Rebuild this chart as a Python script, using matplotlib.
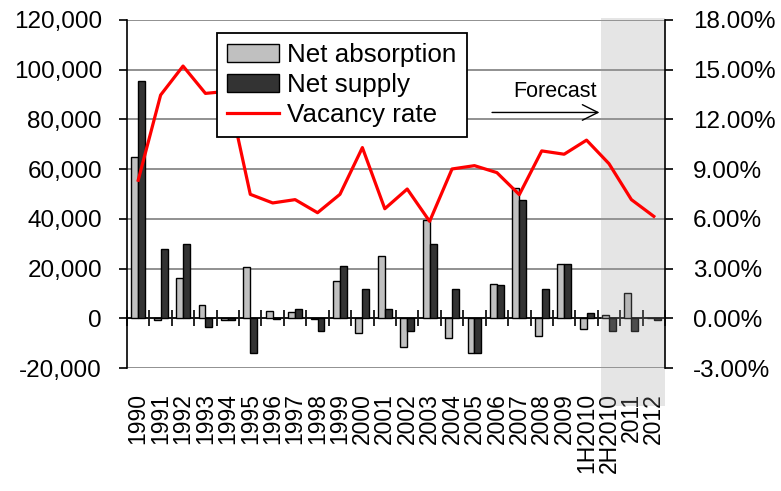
import matplotlib.pyplot as plt
import matplotlib.transforms as mtransforms
import numpy as np
from matplotlib.patches import Rectangle
from matplotlib.ticker import FuncFormatter

plt.rcParams['font.family'] = ['Liberation Sans', 'DejaVu Sans']

# data
cats = ['1990', '1991', '1992', '1993', '1994', '1995', '1996', '1997', '1998', '1999',
        '2000', '2001', '2002', '2003', '2004', '2005', '2006', '2007', '2008', '2009',
        '1H2010', '2H2010', '2011', '2012']
absorption = [64900, -700, 16300, 5400, -500, 20600, 3100, 2400, -400, 14800,
              -5900, 24900, -11700, 39400, -7900, -13900, 13800, 52400, -7000, 21900,
              -4300, 1500, 10200, 0]
supply = [95400, 28000, 30000, -3600, -500, -13900, -300, 3800, -5200, 21200,
          11800, 3800, -5200, 30000, 11800, -13900, 13200, 47400, 11800, 21900,
          2200, -5000, -5000, -600]
vacancy = [8.33, 13.47, 15.22, 13.57, 13.7, 7.48, 6.96, 7.16, 6.37, 7.48,
           10.30, 6.61, 7.80, 5.85, 9.01, 9.21, 8.79, 7.46, 10.1, 9.9,
           10.75, 9.33, 7.16, 6.15]
forecast_start = 20.64

fig = plt.figure(figsize=(7.81, 4.91), dpi=100)
ax = fig.add_axes([0.1626, 0.2505, 0.6889, 0.7088])

x = np.arange(len(cats))
w = 0.31
ax.bar(x - w / 2, absorption, w, color='#c0c0c0', edgecolor='black', lw=1,
       label='Net absorption', zorder=3)
ax.bar(x + w / 2, supply, w, color='#333333', edgecolor='black', lw=1,
       label='Net supply', zorder=3)

ax.set_xlim(-0.5, len(cats) - 0.5)
ax.set_ylim(-20000, 120000)
ax.set_yticks(np.arange(-20000, 120001, 20000))
ax.yaxis.set_major_formatter(FuncFormatter(lambda v, p: f'{v:,.0f}'))
ax.grid(axis='y', color='#888888', lw=1.3)
ax.set_axisbelow(True)
ax.tick_params(axis='y', labelsize=17.5, length=6, width=1.2, pad=12)

ax.spines['top'].set_visible(False)
ax.spines['right'].set_visible(False)
ax.spines['left'].set_linewidth(1.2)
ax.spines['bottom'].set_position(('data', 0))
ax.spines['bottom'].set_linewidth(1.2)
ax.set_xticks(np.arange(-0.5, len(cats), 1))
ax.tick_params(axis='x', which='major', direction='inout', length=11, width=1.2,
               labelbottom=False)

# category labels at the bottom of the plot area
sec = ax.secondary_xaxis('bottom')
sec.set_xticks(x)
sec.set_xticklabels(cats, rotation=90, fontsize=16.5)
sec.tick_params(length=0, pad=18)
sec.spines['bottom'].set_visible(False)

ax.annotate('', xy=(20.7, 82800), xytext=(15.66, 82800),
            arrowprops=dict(arrowstyle='->', color='black', lw=1, mutation_scale=28))
ax.text(18.6, 91300, 'Forecast', ha='center', va='center', fontsize=15.5)

ax2 = ax.twinx()
ax2.plot(x, vacancy, color='red', lw=2.3, label='Vacancy rate')
ax2.set_ylim(-3, 18)
ax2.set_yticks(np.arange(-3, 18.1, 3))
ax2.yaxis.set_major_formatter(FuncFormatter(lambda v, p: f'{v:.2f}%'))
ax2.tick_params(axis='y', labelsize=17.5, length=6, width=1.2, pad=14)
for s in ['top', 'bottom', 'left']:
    ax2.spines[s].set_visible(False)
ax2.spines['right'].set_linewidth(1.2)
ax.set_zorder(0)
ax2.set_zorder(1)

# forecast shading
trans = mtransforms.blended_transform_factory(ax.transData, fig.transFigure)
shade = Rectangle((forecast_start, 1 - 406 / 491), len(cats) - 0.5 - forecast_start,
                  (406 - 18) / 491, transform=trans, facecolor='#9b9b9b', alpha=0.25,
                  edgecolor='none', zorder=0.5)
fig.add_artist(shade)

h1, l1 = ax.get_legend_handles_labels()
h2, l2 = ax2.get_legend_handles_labels()
leg = ax2.legend(h1 + h2, l1 + l2, loc='upper left', bbox_to_anchor=(0.167, 0.963),
                 fontsize=18.7, frameon=True, fancybox=False, edgecolor='black',
                 framealpha=1, borderpad=0.4, handlelength=2.0, handletextpad=0.3,
                 labelspacing=0.22, borderaxespad=0)
leg.get_frame().set_linewidth(1.3)

fig.savefig('out.png', dpi=100)
